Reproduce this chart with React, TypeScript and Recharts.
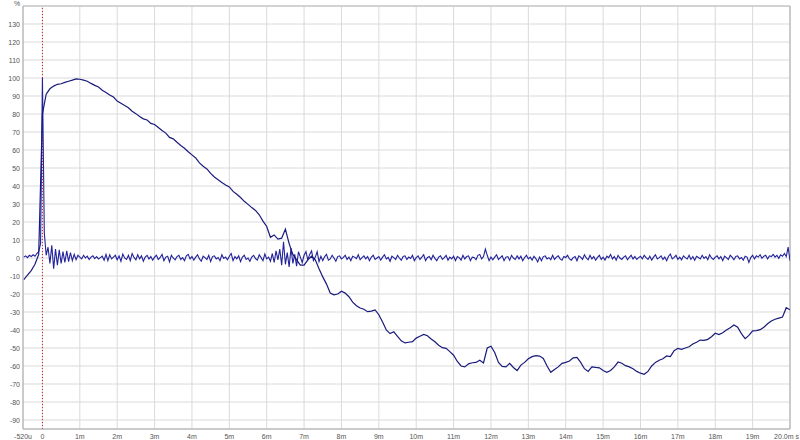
import { LineChart, Line, XAxis, YAxis, CartesianGrid, ReferenceLine } from 'recharts'

// step response, one value every 0.1 ms from -0.5 ms
const STEP_START = -0.5
const STEP_DT = 0.1
const stepValues = [
  -12, -9.5, -7, -3.5, 2,
  80, 91, 94, 95.5, 96.5, 96.8, 97.6, 98.2, 98.8, 99.5,
  99.3, 98.8, 98.2, 97, 95.9, 95, 93.2, 92, 90.6, 89.4,
  87.2, 86, 84.7, 83.5, 81.5, 80.2, 78.6, 77.3, 76.7, 74.8,
  74.2, 72.5, 70.8, 69.4, 67, 66.2, 64.3, 62.5, 61, 59,
  57.3, 55.6, 52.8, 51, 49.5, 47, 45, 43.5, 42, 40.6,
  39.5, 37, 35.4, 33.6, 31.5, 29.8, 28, 26.4, 24, 20.5,
  17.5, 11.5, 12.8, 10.5, 11, 16, 8, 2, -1, -4,
  -4, -1, 1, -1, -6, -10.5, -14.5, -19.5, -20.5, -20,
  -18.5, -19.5, -21.5, -24.5, -26.5, -27.8, -28.5, -29.8, -29.5, -28.8,
  -31.5, -35.5, -40, -42, -41, -43.5, -46, -47.2, -46.8, -46.5,
  -44.5, -43.5, -42.5, -43.2, -45, -46.5, -48.5, -49.8, -50.2, -52,
  -54, -57.5, -60, -60.5, -58.8, -58.2, -58, -56.8, -58.3, -50,
  -49, -52.5, -58, -60.2, -60.5, -58.5, -60.8, -62.5, -59.5, -58,
  -56, -54.8, -54.2, -54.5, -55.8, -60, -63.5, -62, -60.5, -58.5,
  -58, -57.2, -55.5, -55.2, -58, -61.5, -63, -60.5, -60.8, -61,
  -62.5, -63.5, -62.5, -60.5, -57.8, -58.5, -59.8, -60.5, -61.5, -63,
  -64, -64.6, -63, -60, -58, -56.8, -56, -54.4, -54.8, -51.5,
  -50.2, -50.7, -50, -49.3, -47.8, -46.8, -45.6, -45.8, -45.2, -43.7,
  -41.8, -42.5, -41.5, -40, -38.8, -37.2, -38.5, -42, -44.8, -43,
  -40.5, -40.3, -39.8, -38.5, -36.5, -35, -34, -33.4, -32.8, -27.6,
  -28.8,
]

// impulse response, one value every 0.05 ms from -0.5 ms
const IMP_START = -0.5
const IMP_DT = 0.05
const impulseValues = [
  0.5, 1.2, 0.2, 1.5, 0.8, 1.8, 1, 2.5, 3.5, 8,
  100,
  14, 1.5, 6, -3, 7, -6, 5, -4, 4.5, -3, 3.5, -2.5, 4, -2, 3, -1.5, 2, -1, 1.5, 0.5,
  -0.5, 1.5, 0, 1, -0.8, 0.5, 1.2, -0.3, 0.8, -0.5, 0.2, 1, -1.2, 2, -1.5, 1.8, -0.5, 0.5, 1.5, -1,
  1.2, -1.8, 2.2, 0, -0.8, 1.5, -1.5, 2.5, 0.3, -1, 1.8, -0.5, 1.2, -1.8, 0.5, 1.5, -0.5, 0.8, -1.2, 0.5,
  1.5, -0.8, 0.3, 2, -1.5, 0.5, 1, -2.2, 1.5, 0, -1, 0.8, 1.5, -0.8, 0.2, -1.5, 1.2, 2, -0.5, 0.8,
  -1.2, 0.5, 1.8, -0.5, -1.8, 1, 0.2, -0.8, 1.5, -2, 0.8, 1.2, -0.5, 0.3, -1.5, 1.8, -0.2, 0.5, -1, 1,
  2.5, -1.5, 0.8, -0.5, 1.2, -2, 0.5, 1.5, -0.8, 0, -1.8, 0.5, 1.5, -0.3, -1.2, 1.8, 0.2, -1.5, 2.2, -0.5,
  0.5, -1.8, 2.5, -2.5, 4, -1, 5, -4, 9, -3.5, 3, -5, 5.5, -3, 2, -4.5, 3.5, 0.5, -2.5, 1.5,
  3.5, -1, 2, 4, -1.5, 0.5, 3.5, -2, 1, -1.5, 0.8, 2, -1.2, -0.5, 1.5, 0, -1.8, 0.8, 1.2, -0.5,
  0.3, 1.5, -0.8, 0.5, -1.5, 1, 0.5, -0.3, 1.8, -1, 0.2, 1.2, -0.5, 0.8, -1.5, 0.5, 1.5, -0.8, 0, 0.8,
  -1.2, 0.5, 1.8, -0.5, 0.3, -1.8, 1, 0.2, -0.8, 1.5, 0, -1.2, 0.8, 1.2, -0.8, 0.5, -0.3, 1.5, -1.5, 0.2,
  1.2, -0.8, 0.5, 1.8, -1.5, 0.3, 0.8, -1, 1.5, -0.2, -1.5, 0.5, 1.2, -0.8, 0.2, 1.5, -1.2, 0.5, -0.5, 1,
  -1.5, 0.8, 0.2, -1.2, 1.5, -0.5, 0.8, 1.2, -1.5, 0.5, 0.3, -1, 1.5, 2, -0.5, 0.8, 5, 1.5, -1.5, 0.5,
  -1, 0.5, 1.8, -0.8, 0.2, 1.2, -1.5, 0.5, 0.8, -1.2, 1.5, 0, -0.8, 1.2, -0.5, 1, -1.5, 0.3, 1.5, -0.5,
  0.5, -1.2, 1, -0.3, -2.2, 0.5, -1.5, 0.8, 1.2, -0.5, 0.2, -1, 1.5, -0.8, 0.5, 1.2, -0.5, -1.2, 0.8, 0.3,
  1.5, -0.5, -1.2, 0.2, 0.8, -1.5, 1.2, 0.5, -0.8, 1.8, 0, -1, 1.5, -0.5, 0.8, -1.2, 0.3, 1.5, -0.8, 0.5,
  -1.2, 1, 0.2, 2, -0.5, 0.8, -1.2, 1.5, 0, -0.8, 0.5, 1.2, -1, 0.3, 1.5, -0.5, 0.8, -0.8, 0.2, 1,
  -0.5, 1.5, 0.2, -0.8, 1, -1.2, 0.5, 1.8, -0.5, 0.2, 1.2, -0.8, 0.5, -1.5, 1, 2.2, -0.5, 0.3, 1.5, -0.8,
  0.5, -1, 1.2, 0.2, -0.5, 1.5, -0.8, 0.8, -1.2, 1, 0.3, -0.5, 1.5, -0.2, 0.8, -1, 1.8, 0, -0.8, 0.5,
  1.2, -0.5, 0.8, -1.5, 1, 0.2, -0.8, 1.5, 0.5, -1, 0.8, 1.2, -0.5, 0.3, -1.2, 1, 0.5, -2.5, 0.2, 1.5,
  -0.5, 1.2, 0.5, 1.8, -0.2, 1, 1.5, -0.5, 1.2, 0.8, 2, 0.5, 1.5, -0.2, 1.8, 1, 2.5, 0.8, 6, -1.5,
]

const xTicks = [-0.52, 0, 1, 2, 3, 4, 5, 6, 7, 8, 9, 10, 11, 12, 13, 14, 15, 16, 17, 18, 19, 20]
const xTickLabels = ['-520u', '0', '1m', '2m', '3m', '4m', '5m', '6m', '7m', '8m', '9m', '10m',
  '11m', '12m', '13m', '14m', '15m', '16m', '17m', '18m', '19m', '20.0m s']
const yTicks = [-90, -80, -70, -60, -50, -40, -30, -20, -10, 0, 10, 20, 30, 40, 50, 60, 70, 80, 90, 100, 110, 120, 130]
const yUnit = '%'

const stepData = stepValues.map((v, i) => ({ t: +(STEP_START + i * STEP_DT).toFixed(3), v }))
const impulseData = impulseValues.map((v, i) => ({ t: +(IMP_START + i * IMP_DT).toFixed(3), v }))

const FONT = '"Liberation Sans", Arial, sans-serif'

function XTick(props: any) {
  const { x, payload } = props
  const idx = xTicks.indexOf(payload.value)
  const label = idx >= 0 ? xTickLabels[idx] : String(payload.value)
  const last = idx === xTicks.length - 1
  return (
    <text x={last ? x + 9 : x} y={439} textAnchor={last ? 'end' : 'middle'} fontSize={7} fill="#555" fontFamily={FONT}>
      {label}
    </text>
  )
}

function YTick(props: any) {
  const { y, payload } = props
  return (
    <text x={20} y={y + 2.5} textAnchor="end" fontSize={7} fill="#555" fontFamily={FONT}>
      {payload.value}
    </text>
  )
}

export default function App() {
  return (
    <div style={{ position: 'absolute', left: 0, top: 0, width: 800, height: 440, background: '#fff' }}>
      <LineChart width={800} height={440} margin={{ top: 6, right: 10, left: 0, bottom: 0 }}>
        <CartesianGrid stroke="#dadada" strokeWidth={1} />
        <XAxis
          type="number"
          dataKey="t"
          domain={[-0.52, 20]}
          ticks={xTicks}
          allowDataOverflow
          interval={0}
          height={11}
          tickLine={false}
          axisLine={{ stroke: '#a8a8a8' }}
          tick={<XTick />}
        />
        <YAxis
          type="number"
          domain={[-95, 140]}
          ticks={yTicks}
          allowDataOverflow
          interval={0}
          width={23}
          tickLine={false}
          axisLine={{ stroke: '#a8a8a8' }}
          tick={<YTick />}
        />
        <ReferenceLine y={140} stroke="#b8b8b8" />
        <ReferenceLine x={20} stroke="#a8a8a8" />
        <ReferenceLine x={0} stroke="#d02020" strokeDasharray="1 2" />
        <Line
          data={impulseData}
          dataKey="v"
          type="linear"
          stroke="#22229c"
          strokeWidth={1.1}
          dot={false}
          isAnimationActive={false}
        />
        <Line
          data={stepData}
          dataKey="v"
          type="linear"
          stroke="#1a1a7c"
          strokeWidth={1.2}
          dot={false}
          isAnimationActive={false}
        />
        <text x={17} y={6} textAnchor="middle" fontSize={7} fill="#555" fontFamily={FONT}>
          {yUnit}
        </text>
      </LineChart>
    </div>
  )
}
